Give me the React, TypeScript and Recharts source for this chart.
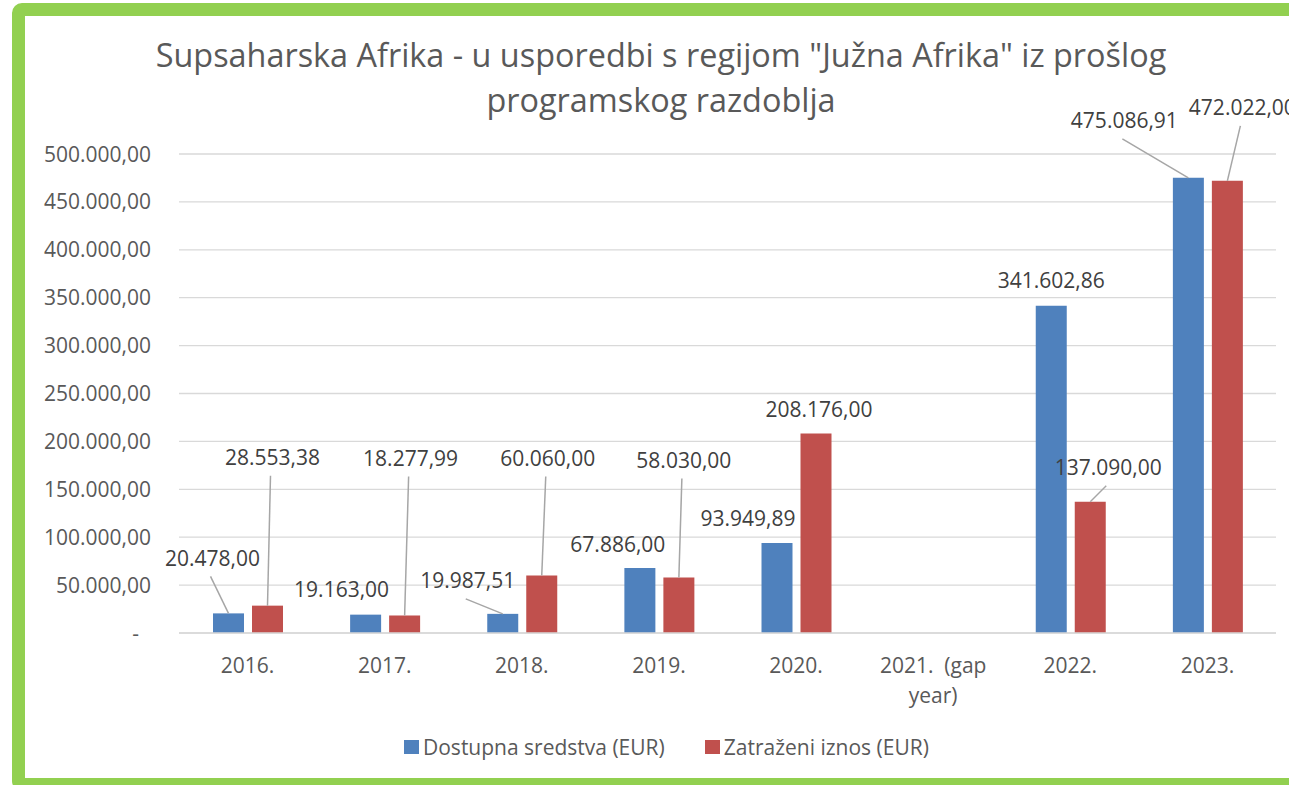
import React from 'react';
import { BarChart, Bar, XAxis, YAxis, CartesianGrid, LabelList } from 'recharts';

const categories = ['2016.', '2017.', '2018.', '2019.', '2020.', '2021.  (gap year)', '2022.', '2023.'];
const dostupnaSredstva = [20478.0, 19163.0, 19987.51, 67886.0, 93949.89, null, 341602.86, 475086.91];
const zatrazeniIznos = [28553.38, 18277.99, 60060.0, 58030.0, 208176.0, null, 137090.0, 472022.0];
const yTicks = [0, 50000, 100000, 150000, 200000, 250000, 300000, 350000, 400000, 450000, 500000];

const titleLines = ['Supsaharska Afrika - u usporedbi s regijom "Južna Afrika" iz prošlog', 'programskog razdoblja'];

const series = [
  { key: 'dostupna', name: 'Dostupna sredstva (EUR)', color: '#4f81bd', values: dostupnaSredstva },
  { key: 'zatrazeni', name: 'Zatraženi iznos (EUR)', color: '#c0504d', values: zatrazeniIznos },
];

// where each data label sits, relative to the top centre of its bar
const dostupnaLabels = [
  { dx: -16, dy: -55, leader: true },
  { dx: -24, dy: -25 },
  { dx: -35, dy: -33, leader: true },
  { dx: -22, dy: -24 },
  { dx: -29, dy: -25 },
  null,
  { dx: 0, dy: -25 },
  { dx: -64, dy: -57, leader: true },
];
const zatrazeniLabels = [
  { dx: 5, dy: -148, leader: true },
  { dx: 6, dy: -157, leader: true },
  { dx: 6, dy: -117, leader: true },
  { dx: 5, dy: -117, leader: true },
  { dx: 3, dy: -24 },
  null,
  { dx: 18, dy: -34, leader: true },
  { dx: 15, dy: -73, leader: true },
];

const data = categories.map((name, i) => ({
  name,
  dostupna: dostupnaSredstva[i],
  zatrazeni: zatrazeniIznos[i],
}));

const FONT = '"Open Sans", sans-serif';
const AXIS_COLOR = '#595959';
const FS = 21;

// 475086.91 -> "475.086,91"
function fmt(v: number) {
  const [int, dec] = v.toFixed(2).split('.');
  return int.replace(/\B(?=(\d{3})+(?!\d))/g, '.') + ',' + dec;
}

let ctx: CanvasRenderingContext2D | null = null;
function wrap(label: string, maxWidth: number) {
  if (!ctx) ctx = document.createElement('canvas').getContext('2d');
  ctx!.font = `${FS}px "Open Sans"`;
  const words = label.split(' ');
  const lines: string[] = [];
  let cur = '';
  words.forEach((w, i) => {
    const next = i === 0 ? w : cur + ' ' + w;
    if (cur && w && ctx!.measureText(next).width > maxWidth) {
      lines.push(cur);
      cur = w;
    } else {
      cur = next;
    }
  });
  lines.push(cur);
  return lines;
}

const YTick = (props: any) => {
  const { x, y, payload } = props;
  const zero = payload.value === 0;
  return (
    <text x={zero ? x - 12 : x} y={y} dy="0.36em" textAnchor="end" fill={AXIS_COLOR} fontSize={FS} fontFamily={FONT}>
      {zero ? '-' : fmt(payload.value)}
    </text>
  );
};

const XTick = (props: any) => {
  const { x, y, payload } = props;
  const lines = wrap(String(payload.value), 130);
  return (
    <text x={x} y={y} textAnchor="middle" fill={AXIS_COLOR} fontSize={FS} fontFamily={FONT} style={{ whiteSpace: 'pre' }}>
      {lines.map((l, i) => (
        <tspan key={i} x={x} dy={i === 0 ? '0.71em' : 30}>{l}</tspan>
      ))}
    </text>
  );
};

// null entries are skipped by LabelList, so find the category by value
const makeLabel = (values: (number | null)[], placements: any[]) => (props: any) => {
  const { value } = props;
  if (value == null) return null;
  const vb = props.viewBox || props;
  const p = placements[values.indexOf(value)];
  if (!p) return null;
  const bx = vb.x + vb.width / 2;
  const by = vb.y;
  const lx = bx + p.dx;
  const ly = by + p.dy;
  return (
    <g>
      {p.leader && <line x1={lx - 2} y1={ly + 18} x2={bx} y2={by} stroke="#a6a6a6" strokeWidth={1.5} />}
      <text x={lx} y={ly} dy="0.36em" textAnchor="middle" fill="#404040" fontSize={FS} fontFamily={FONT}>
        {fmt(value)}
      </text>
    </g>
  );
};

const labelSets: Record<string, any[]> = { dostupna: dostupnaLabels, zatrazeni: zatrazeniLabels };

export default function App() {
  return (
    <div style={{ position: 'absolute', left: 0, top: 0, width: 1289, height: 785, overflow: 'hidden', background: '#fff', fontFamily: FONT }}>
      <div style={{
        position: 'absolute', left: 12, top: 3, width: 1320, height: 788, boxSizing: 'border-box',
        border: '13px solid #92d050', borderRadius: 10,
      }} />
      <div style={{ position: 'absolute', left: 0, top: 32, width: 1322, textAlign: 'center', color: AXIS_COLOR, fontSize: 32.4, lineHeight: '45px' }}>
        {titleLines.map((t) => <div key={t}>{t}</div>)}
      </div>
      <div style={{ position: 'absolute', left: 0, top: 0 }}>
        <BarChart width={1289} height={785} data={data} barSize={31} barGap={8}
          margin={{ top: 154, right: 13, left: 0, bottom: 102 }}>
          <CartesianGrid vertical={false} stroke="#d9d9d9" strokeWidth={1.3} />
          <XAxis dataKey="name" height={50} tickSize={0} tickMargin={25} tick={<XTick />} interval={0}
            axisLine={{ stroke: '#d9d9d9', strokeWidth: 1.3 }} />
          <YAxis width={179} domain={[0, 500000]} ticks={yTicks} tickSize={0} tickMargin={28}
            axisLine={false} tick={<YTick />} interval={0} />
          {series.map((s) => (
            <Bar key={s.key} dataKey={s.key} name={s.name} fill={s.color} isAnimationActive={false}>
              <LabelList dataKey={s.key} content={makeLabel(s.values, labelSets[s.key])} />
            </Bar>
          ))}
        </BarChart>
      </div>
      <div style={{ position: 'absolute', left: 404, top: 733, display: 'flex', alignItems: 'center', color: AXIS_COLOR, fontSize: FS }}>
        {series.map((s, i) => (
          <div key={s.key} style={{ display: 'flex', alignItems: 'center', marginRight: i === 0 ? 40 : 0 }}>
            <span style={{ display: 'inline-block', width: 15, height: 14, background: s.color, marginRight: 4 }} />
            <span>{s.name}</span>
          </div>
        ))}
      </div>
    </div>
  );
}
